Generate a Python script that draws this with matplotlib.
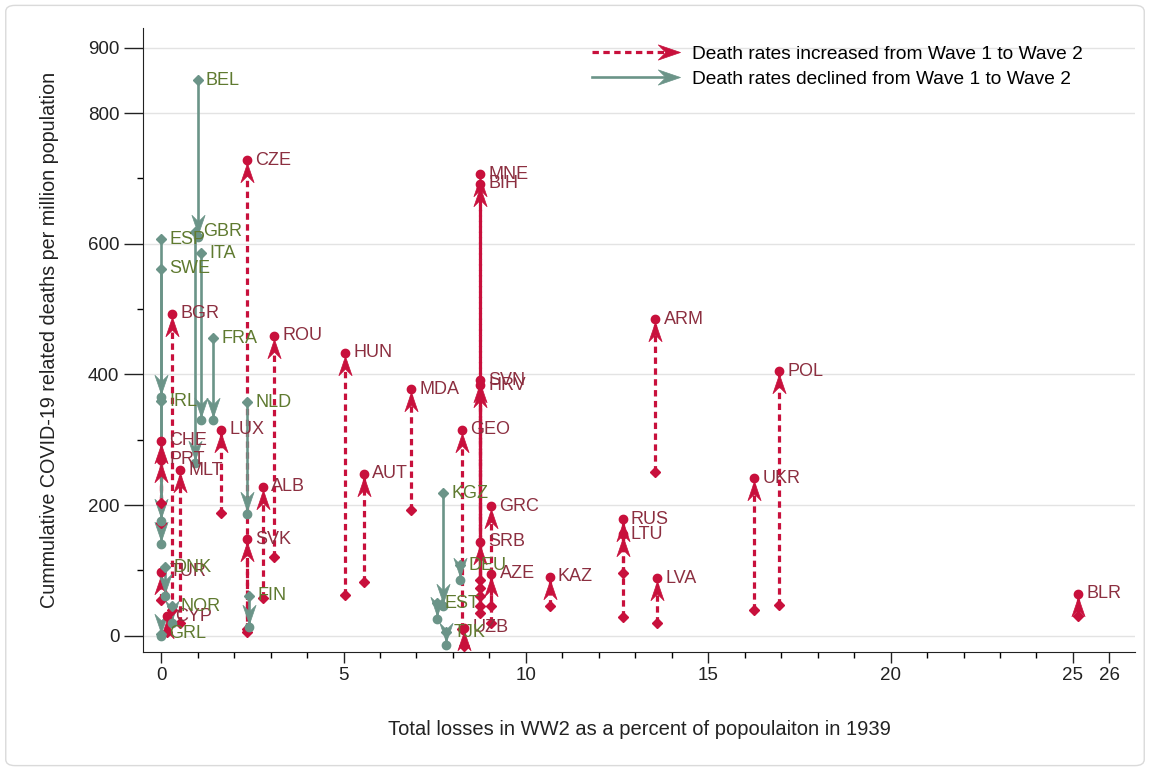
import numpy as np
import matplotlib
matplotlib.use("Agg")
import matplotlib.pyplot as plt
from matplotlib.path import Path
from matplotlib.lines import Line2D
from matplotlib.legend_handler import HandlerBase
from matplotlib.patches import FancyBboxPatch

plt.rcParams['font.family'] = ['Liberation Sans', 'DejaVu Sans']

# --- countries where the death rate went up from wave 1 to wave 2 ---
up_codes = ["CZE", "BGR", "ROU", "HUN", "MDA", "MNE", "BIH", "SVN", "HRV", "GEO",
            "ARM", "POL", "LUX", "CHE", "PRT", "MLT", "ALB", "AUT", "UKR", "GRC",
            "SRB", "RUS", "LTU", "KAZ", "LVA", "AZE", "SVK", "TUR", "CYP", "UZB", "BLR"]
up_loss = [2.35, 0.3, 3.1, 5.05, 6.85, 8.75, 8.75, 8.75, 8.75, 8.25,
           13.55, 16.95, 1.65, 0.0, 0.0, 0.52, 2.78, 5.55, 16.25, 9.05,
           8.75, 12.65, 12.65, 10.65, 13.6, 9.05, 2.35, 0.0, 0.15, 8.3, 25.15]
up_wave1 = [6, 40, 120, 62, 192, 85, 60, 45, 73, 10,
            250, 47, 188, 172, 203, 20, 57, 82, 40, 45,
            35, 96, 29, 45, 20, 20, 10, 55, 5, -15, 30]
up_wave2 = [728, 493, 459, 433, 377, 706, 692, 391, 383, 315,
            484, 405, 315, 298, 269, 253, 228, 248, 241, 198,
            144, 178, 155, 90, 88, 95, 148, 98, 30, 12, 64]

# --- countries where the death rate went down ---
down_codes = ["BEL", "GBR", "ESP", "ITA", "SWE", "FRA", "IRL", "NLD", "DNK", "NOR",
              "GRL", "FIN", "KGZ", "DEU", "EST", "TJK"]
down_loss = [1.0, 0.93, 0.0, 1.1, 0.0, 1.42, 0.0, 2.35, 0.1, 0.3,
             0.0, 2.4, 7.72, 8.2, 7.55, 7.8]
down_wave1 = [850, 618, 607, 585, 562, 455, 359, 357, 105, 45,
              3, 61, 218, 108, 50, 5]
down_wave2 = [610, 265, 365, 330, 140, 330, 175, 187, 60, 20,
              0, 14, 45, 85, 25, -14]

red = "#C8103C"
red_text = "#8C2F40"
green = "#6B9488"
green_text = "#5F7A30"
dash = (0, (2.0, 1.4))


def head_path(direction):
    # barbed arrow head, tip a little off the origin so it stops at the end dot
    pts = np.array([[0, -3], [6.5, -22], [0, -15.5], [-6.5, -22], [0, -3]], float)
    if direction == "down":
        pts[:, 1] *= -1
    elif direction == "right":
        pts = np.column_stack([pts[:, 1] + 3, -pts[:, 0]])
    return Path(pts, closed=True)


HEAD_MS = 32


class ArrowHandler(HandlerBase):
    def create_artists(self, legend, orig, xd, yd, width, height, fontsize, trans):
        y = height / 2 - yd
        line = Line2D([-xd, width - xd - 8], [y, y])
        line.update_from(orig)
        line.set_marker("")
        line.set_transform(trans)
        head = Line2D([width - xd], [y], marker=head_path("right"), ms=HEAD_MS,
                      color=orig.get_color(), mec=orig.get_color(), mew=0.5, ls="none")
        head.set_transform(trans)
        return [line, head]


fig = plt.figure(figsize=(11.5, 7.71), dpi=100)
ax = fig.add_axes([0.1243, 0.1543, 0.8626, 0.8093])

# increases: dashed shaft, head at wave 2
for code, x, a, b in zip(up_codes, up_loss, up_wave1, up_wave2):
    ax.plot([x, x], [a, b], color=red, lw=2.3, ls=dash, zorder=3)
    ax.plot([x], [b], marker=head_path("up"), ms=HEAD_MS, color=red, mec=red,
            mew=0.5, ls="none", zorder=4)
    ax.plot([x], [a], marker="D", ms=5.5, color=red, ls="none", zorder=5)
    ax.plot([x], [b], marker="o", ms=6, color=red, ls="none", zorder=5)
    ax.annotate(code, (x, b), xytext=(6, 0), textcoords="offset points",
                va="center", ha="left", fontsize=13, color=red_text, zorder=6)

# declines: solid shaft, head pointing down
for code, x, a, b in zip(down_codes, down_loss, down_wave1, down_wave2):
    ax.plot([x, x], [a, b], color=green, lw=1.9, zorder=3)
    ax.plot([x], [b], marker=head_path("down"), ms=HEAD_MS, color=green, mec=green,
            mew=0.5, ls="none", zorder=4)
    ax.plot([x], [a], marker="D", ms=5.5, color=green, ls="none", zorder=5)
    ax.plot([x], [b], marker="o", ms=6, color=green, ls="none", zorder=5)
    ax.annotate(code, (x, a), xytext=(6, 0), textcoords="offset points",
                va="center", ha="left", fontsize=13, color=green_text, zorder=6)

ax.set_xlim(-0.5, 26.7)
ax.set_ylim(-25, 930)

ax.set_yticks([0, 200, 400, 600, 800, 900])
ax.set_yticks([100, 300, 500, 700], minor=True)
ax.set_xticks([0, 5, 10, 15, 20, 25, 26])
ax.set_xticks(range(0, 27), minor=True)
ax.tick_params(axis="both", which="major", width=1, labelsize=13.5, colors="#222222")
ax.tick_params(axis="y", which="major", length=14, pad=3)
ax.tick_params(axis="x", which="major", length=8, pad=3)
ax.tick_params(axis="both", which="minor", length=4, width=1)

ax.yaxis.grid(True, which="major", color="#e3e3e3", lw=1)
ax.set_axisbelow(True)
for side in ["top", "right"]:
    ax.spines[side].set_visible(False)
for side in ["left", "bottom"]:
    ax.spines[side].set_color("#222222")

ax.set_xlabel("Total losses in WW2 as a percent of popoulaiton in 1939",
              fontsize=14.5, color="#222222", labelpad=26)
ax.set_ylabel("Cummulative COVID-19 related deaths per million population",
              fontsize=14.2, color="#222222", labelpad=21)

handles = [Line2D([], [], color=red, lw=2.3, ls=dash),
           Line2D([], [], color=green, lw=1.9)]
fig.legend(handles, ["Death rates increased from Wave 1 to Wave 2",
                     "Death rates declined from Wave 1 to Wave 2"],
           handler_map={Line2D: ArrowHandler()},
           loc="upper left", bbox_to_anchor=(0.515, 0.941),
           frameon=False, fontsize=13.8, handlelength=4.6, handletextpad=0.6,
           labelspacing=0.4, borderpad=0, borderaxespad=0)

fig.patches.append(FancyBboxPatch((0.005, 0.007), 0.99, 0.986,
                                  boxstyle="round,pad=0,rounding_size=0.008",
                                  transform=fig.transFigure, fill=False,
                                  ec="#dadada", lw=1))

fig.savefig("out.png", dpi=100)
